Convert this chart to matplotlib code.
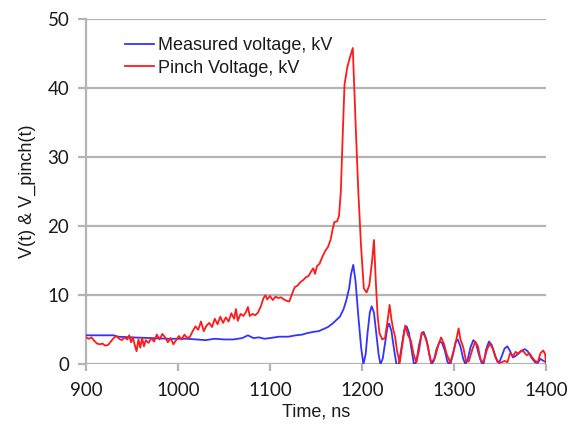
import matplotlib
matplotlib.use("Agg")
import matplotlib.pyplot as plt

# ---- data ----
t_pinch = [900, 903, 906, 909, 912, 915, 918, 921, 924, 927, 930, 933, 936, 939, 942, 945, 947, 949,
           951, 953, 955, 957, 959, 961, 963, 965, 968, 971, 974, 977, 980, 983, 986, 989, 992, 995,
           998, 1001, 1004, 1007, 1010, 1013, 1016, 1019, 1022, 1025, 1028, 1031, 1034, 1037, 1040,
           1043, 1046, 1049, 1052, 1055, 1058, 1061, 1063, 1065, 1068, 1071, 1074, 1076, 1078, 1081,
           1084, 1087, 1090, 1093, 1095, 1097, 1100, 1103, 1106, 1109, 1112, 1115, 1118, 1121, 1124,
           1127, 1130, 1133, 1136, 1139, 1142, 1145, 1147, 1149, 1151, 1154, 1157, 1160, 1163, 1166,
           1168, 1170, 1173, 1175, 1177, 1179, 1181, 1184, 1187, 1190, 1193, 1196, 1199, 1202, 1205,
           1208, 1211, 1213, 1215, 1217, 1219, 1222, 1225, 1228, 1230, 1232, 1234, 1236, 1238, 1241,
           1244, 1247, 1250, 1253, 1256, 1259, 1262, 1265, 1268, 1271, 1275, 1279, 1283, 1286, 1289,
           1292, 1296, 1300, 1303, 1305, 1307, 1310, 1313, 1316, 1320, 1323, 1326, 1329, 1332, 1336,
           1339, 1342, 1345, 1349, 1352, 1355, 1358, 1361, 1364, 1367, 1370, 1373, 1376, 1379, 1382,
           1385, 1388, 1391, 1394, 1397, 1399, 1400]
v_pinch = [3.9, 3.7, 3.9, 3.4, 3.0, 2.9, 3.0, 2.7, 2.8, 3.3, 3.8, 4.1, 3.7, 3.5, 3.9, 3.6, 4.2, 3.2,
           3.9, 2.8, 1.9, 3.6, 2.4, 3.8, 2.6, 3.5, 3.1, 3.8, 3.3, 4.3, 3.6, 4.4, 3.9, 3.2, 3.8, 2.9,
           3.5, 4.1, 3.6, 4.3, 3.8, 4.0, 4.8, 5.5, 5.0, 6.2, 4.8, 5.6, 6.0, 5.4, 6.6,
           5.8, 6.9, 6.0, 6.8, 6.2, 7.4, 6.6, 8.0, 6.3, 7.3, 7.0, 7.6, 8.3, 7.0, 7.3,
           7.1, 7.5, 8.4, 9.6, 10.0, 9.4, 9.9, 9.3, 9.8, 9.6, 9.7, 9.4, 9.2, 9.1, 10.2,
           11.2, 11.4, 11.9, 12.2, 12.6, 12.8, 13.5, 13.9, 13.1, 14.2, 14.6, 15.6, 16.4, 17.0, 18.1,
           19.5, 20.6, 20.7, 21.5, 25.0, 33.0, 40.5, 43.0, 44.5, 45.8, 35.0, 25.0, 17.0, 11.0, 10.4,
           11.5, 15.0, 18.0, 12.0, 7.0, 4.5, 3.6, 3.8, 6.5, 8.6, 6.5, 5.0, 4.0, 2.0, 0.2,
           3.0, 5.6, 4.2, 3.5, 1.5, 0.3, 2.0, 4.6, 4.2, 3.0, 0.3, 0.8, 2.8, 3.9, 3.0,
           1.5, 0.2, 2.2, 3.9, 5.2, 3.6, 2.5, 0.5, 0.4, 2.2, 3.3, 2.6, 0.6, 0.3, 2.2,
           3.0, 2.3, 1.0, 0.2, 0.3, 0.5, 0.3, 1.6, 1.2, 1.8, 1.5, 2.0, 1.8, 1.3, 1.6,
           1.0, 0.5, 0.3, 1.6, 2.0, 1.5, 0.2]

t_meas = [900, 930, 935, 950, 970, 990, 1010, 1020, 1030, 1040, 1050, 1060, 1070, 1076, 1082, 1088,
          1094, 1100, 1110, 1120, 1128, 1135, 1140, 1147, 1153, 1158, 1163, 1168, 1172, 1176, 1180,
          1183, 1186, 1188, 1190.5, 1193, 1196, 1199, 1201.5, 1204, 1206, 1208.5, 1210.5, 1213,
          1215.5, 1218, 1220, 1222.5, 1225, 1227.5, 1229.5, 1232, 1235, 1237.5, 1240, 1243, 1246,
          1248.5, 1251, 1254, 1256.5, 1259, 1262, 1265, 1267, 1270, 1273, 1275.5, 1278, 1281,
          1284.5, 1287, 1290, 1293, 1296, 1299, 1302, 1304, 1307, 1310, 1312.5, 1315, 1318, 1321,
          1324, 1327, 1330, 1332, 1335, 1338, 1341, 1344, 1347, 1349, 1352, 1355, 1358, 1361, 1364,
          1367, 1370, 1374, 1377, 1380, 1384, 1388, 1391, 1394, 1396, 1400]
v_meas = [4.2, 4.2, 4.0, 3.9, 3.8, 3.7, 3.7, 3.6, 3.5, 3.7, 3.6, 3.6, 3.8, 4.2, 3.8, 3.9,
          3.7, 3.8, 4.0, 4.0, 4.2, 4.3, 4.5, 4.7, 4.8, 5.1, 5.4, 5.9, 6.4, 6.9, 8.0,
          9.3, 11.0, 13.0, 14.4, 12.0, 7.0, 2.5, 0.0, 1.5, 4.5, 7.5, 8.4, 7.5,
          4.5, 1.5, 0.0, 0.8, 3.0, 5.3, 5.9, 4.8, 2.0, 0.0, 0.0, 2.5, 5.0,
          5.5, 4.6, 2.0, 0.0, 0.3, 2.8, 4.5, 4.7, 3.6, 1.5, 0.0, 0.5, 2.2,
          3.3, 3.1, 2.0, 0.3, 0.0, 1.5, 3.3, 3.6, 2.6, 0.8, 0.0, 0.8, 2.5, 3.5,
          3.0, 1.4, 0.2, 0.0, 2.2, 3.3, 2.8, 1.6, 0.4, 0.2, 1.2, 2.3, 2.6, 1.9, 1.0,
          1.2, 1.6, 2.0, 2.2, 1.9, 1.0, 0.3, 0.2, 0.8, 0.6, 0.3]

x_ticks = [900, 1000, 1100, 1200, 1300, 1400]
y_ticks = [0, 10, 20, 30, 40, 50]

label_meas = "Measured voltage, kV"
label_pinch = "Pinch Voltage, kV"
x_label = "Time, ns"
y_label = "V(t) & V_pinch(t)"

# ---- figure ----
fig = plt.figure(figsize=(5.69, 4.26), dpi=100)
ax = fig.add_axes([0.1511, 0.1448, 0.8085, 0.8106])

grid_c = "#b4b4b4"
txt_c = "#1a1a1a"
ax.plot(t_meas, v_meas, color="#3333ff", lw=1.3, label=label_meas, zorder=3)
ax.plot(t_pinch, v_pinch, color="#ff1a1a", lw=1.3, label=label_pinch, zorder=4)

ax.set_xlim(900, 1400)
ax.set_ylim(0, 50)
ax.set_xticks(x_ticks)
ax.set_yticks(y_ticks)
ax.yaxis.grid(True, color=grid_c, lw=1.6, zorder=0)
ax.set_axisbelow(True)

for s in ["top", "right", "bottom"]:
    ax.spines[s].set_visible(False)
ax.spines["left"].set_color(grid_c)
ax.spines["left"].set_linewidth(1.6)

ax.tick_params(axis="y", length=6, width=1.6, color=grid_c, pad=6)
ax.tick_params(axis="x", length=5, width=1.6, color=grid_c, pad=8)
for lab in ax.get_xticklabels() + ax.get_yticklabels():
    lab.set_fontfamily("Lato")
    lab.set_fontsize(13.5)
    lab.set_color(txt_c)

ax.set_xlabel(x_label, fontfamily="Liberation Sans", fontsize=13, color=txt_c, labelpad=3)
ax.set_ylabel(y_label, fontfamily="Liberation Sans", fontsize=13, color=txt_c, labelpad=8)

leg = ax.legend(loc="upper left", bbox_to_anchor=(0.07, 0.968), frameon=False,
                prop={"family": "Liberation Sans", "size": 13},
                handlelength=1.6, handletextpad=0.2, labelspacing=0.3, borderaxespad=0)
for t in leg.get_texts():
    t.set_color(txt_c)

fig.savefig("out.png", dpi=100)
